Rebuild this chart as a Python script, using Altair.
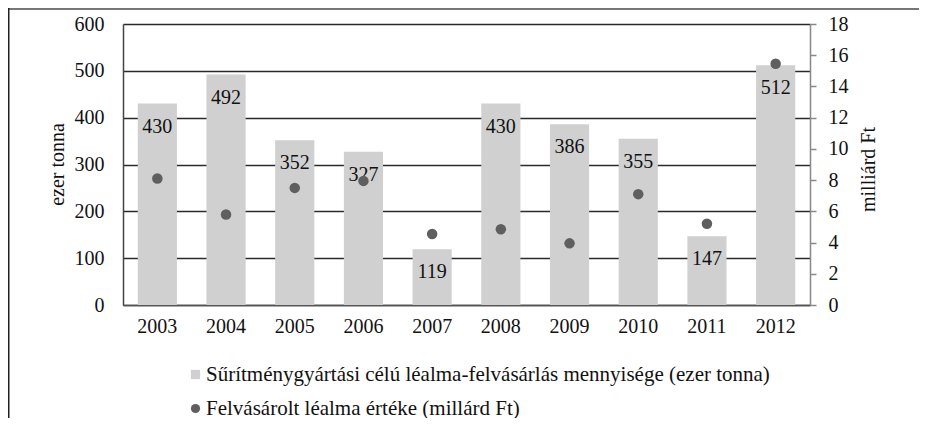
import altair as alt
import pandas as pd

years = ["2003", "2004", "2005", "2006", "2007", "2008", "2009", "2010", "2011", "2012"]
quantity = [430, 492, 352, 327, 119, 430, 386, 355, 147, 512]
value = [8.1, 5.8, 7.5, 7.95, 4.55, 4.85, 3.95, 7.1, 5.2, 15.45]

bar_label = "Sűrítménygyártási célú léalma-felvásárlás mennyisége (ezer tonna)"
dot_label = "Felvásárolt léalma értéke (millárd Ft)"

df = pd.DataFrame({
    "year": years,
    "q": quantity,
    "v": value,
    "sb": [bar_label] * len(years),
    "sd": [dot_label] * len(years),
})

FONT = "Liberation Serif"
FS = 20
color_scale = alt.Scale(domain=[bar_label, dot_label], range=["#d0d0d0", "#5f5f5f"])
shape_scale = alt.Scale(domain=[bar_label, dot_label], range=["square", "circle"])

legend = alt.Legend(
    title=None, orient="none", legendX=62, legendY=340, direction="vertical",
    labelFont=FONT, labelFontSize=21, labelColor="#111", symbolSize=85,
    rowPadding=12, labelOffset=0, padding=0, symbolStrokeWidth=0, labelLimit=0,
)

x = alt.X("year:N", title=None, sort=years,
          scale=alt.Scale(paddingInner=0.43, paddingOuter=0.215),
          axis=alt.Axis(labelAngle=0, tickSize=0, ticks=False, labelPadding=11,
                        domainColor="#555", domainWidth=1.5, labelFontSize=FS,
                        labelColor="#111", labelFont=FONT))

yl = alt.Y("q:Q", title="ezer tonna",
           scale=alt.Scale(domain=[0, 600], nice=False),
           axis=alt.Axis(values=[0, 100, 200, 300, 400, 500, 600], ticks=False, tickSize=0,
                         labelPadding=19, grid=True, gridColor="#2a2a2a", gridWidth=1.6,
                         domainColor="#444", domainWidth=1.5, labelFontSize=FS,
                         labelColor="#111", labelFont=FONT, titleFont=FONT,
                         titleFontSize=FS, titleFontWeight="normal", titleColor="#111",
                         titleX=-66, titleY=140, titleAngle=270, titleAlign="center",
                         titleBaseline="middle"))

bars = alt.Chart(df).mark_bar(color="#d0d0d0").encode(
    x=x, y=yl,
    color=alt.Color("sb:N", scale=color_scale, legend=legend),
)

text = alt.Chart(df).mark_text(dy=23, baseline="middle", font=FONT, fontSize=FS, color="#111").encode(
    x=alt.X("year:N", sort=years), y=alt.Y("q:Q"), text="q:Q"
)

points = alt.Chart(df).mark_point(filled=True, size=110, opacity=1).encode(
    x=alt.X("year:N", sort=years),
    y=alt.Y("v:Q", title="milliárd Ft",
            scale=alt.Scale(domain=[0, 18], nice=False),
            axis=alt.Axis(orient="right", values=list(range(0, 19, 2)), grid=False,
                          tickSize=6, tickColor="#888", tickWidth=1.5,
                          domainColor="#888", domainWidth=1.5, labelPadding=12,
                          labelFontSize=FS, labelColor="#111", labelFont=FONT,
                          titleFont=FONT, titleFontSize=FS, titleFontWeight="normal",
                          titleColor="#111", titleAngle=270, titleX=58, titleY=145,
                          titleAlign="center", titleBaseline="middle")),
    color=alt.Color("sd:N", scale=color_scale, legend=legend),
    shape=alt.Shape("sd:N", scale=shape_scale, legend=legend),
)

frame = alt.Data(values=[{}])
top_line = alt.Chart(frame).mark_rule(color="#777", strokeWidth=2).encode(
    x=alt.value(-115), x2=alt.value(800), y=alt.value(-15)
)
left_line = alt.Chart(frame).mark_rect(color="#222").encode(
    x=alt.value(-115), x2=alt.value(-113.5), y=alt.value(-16), y2=alt.value(400)
)

chart = alt.layer(
    alt.layer(bars, text),
    points,
    top_line,
    left_line,
).resolve_scale(y="independent").properties(
    width=687, height=281,
    autosize=alt.AutoSizeParams(type="none"),
    padding={"left": 115, "top": 16, "right": 109, "bottom": 113},
).configure_view(stroke=None).configure(font=FONT)

chart.save("out.html", embed_options={"renderer": "svg", "actions": False})
